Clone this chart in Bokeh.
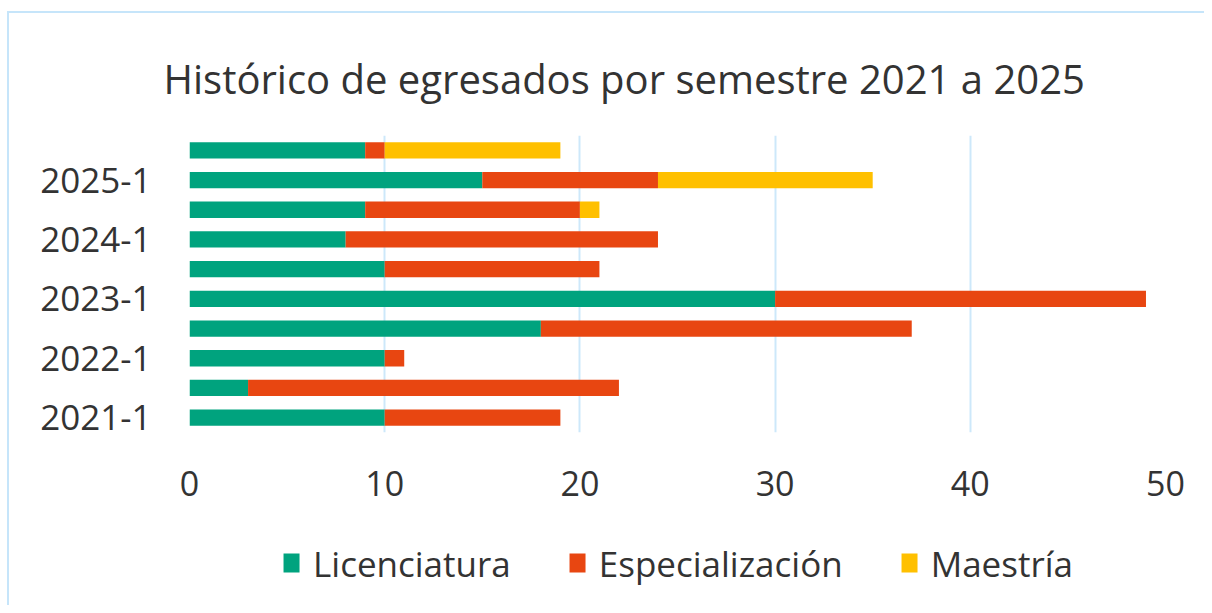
from bokeh.plotting import figure
from bokeh.layouts import column
from bokeh.models import ColumnDataSource, FixedTicker, Legend, LegendItem, Range1d
from bokeh.embed import file_html
from bokeh.resources import INLINE

semestres = ["2021-1", "2021-2", "2022-1", "2022-2", "2023-1",
             "2023-2", "2024-1", "2024-2", "2025-1", "2025-2"]
licenciatura = [10, 3, 10, 18, 30, 10, 8, 9, 15, 9]
especializacion = [9, 19, 1, 19, 19, 11, 16, 11, 9, 1]
maestria = [0, 0, 0, 0, 0, 0, 0, 1, 11, 9]
series_names = ["Licenciatura", "Especialización", "Maestría"]
colors = ["#00A37E", "#E84611", "#FFC000"]
x_ticks = [0, 10, 20, 30, 40, 50]

source = ColumnDataSource(dict(
    y=list(range(len(semestres))),
    lic=licenciatura, esp=especializacion, mae=maestria,
))

FONT = "Open Sans"
TXT = "#333333"
BORDER = "2px solid #C6E5FA"

p = figure(width=1195, height=507, output_backend="svg", toolbar_location=None,
           x_range=Range1d(0, 50), y_range=Range1d(-0.5, len(semestres) - 0.5),
           min_border_left=180, min_border_right=39, min_border_top=122,
           min_border_bottom=88, title="Histórico de egresados por semestre 2021 a 2025")

p.title.text_font = FONT
p.title.text_font_size = "40px"
p.title.text_font_style = "normal"
p.title.text_color = TXT
p.title.align = "left"
p.title.offset = -26
p.title.standoff = 60

renderers = p.hbar_stack(["lic", "esp", "mae"], y="y", height=0.55, color=colors,
                         source=source, line_color=None)

p.outline_line_color = None
p.ygrid.grid_line_color = None
p.xgrid.grid_line_color = "#CDE8FA"
p.xgrid.grid_line_width = 2
p.xaxis.ticker = FixedTicker(ticks=x_ticks)
p.yaxis.ticker = FixedTicker(ticks=[i for i in range(0, len(semestres), 2)])
p.yaxis.major_label_overrides = {i: semestres[i] for i in range(0, len(semestres), 2)}

for ax in (p.xaxis, p.yaxis):
    ax.axis_line_color = None
    ax.major_tick_line_color = None
    ax.minor_tick_line_color = None
    ax.major_label_text_font = FONT
    ax.major_label_text_color = TXT
p.xaxis.major_label_text_font_size = "34px"
p.yaxis.major_label_text_font_size = "35px"
p.xaxis.major_label_standoff = 32
p.yaxis.major_label_standoff = 32

# Legend lives in its own strip below the chart; its swatches come from the
# same stacked-bar series (drawn outside that strip's visible range).
leg = figure(width=1195, height=85, output_backend="svg", toolbar_location=None,
             x_axis_location=None, y_axis_location=None, min_border=0,
             min_border_left=42,
             x_range=Range1d(100, 110), y_range=Range1d(100, 110))
leg.outline_line_color = None
leg.grid.visible = False
leg_renderers = leg.hbar_stack(["lic", "esp", "mae"], y="y", height=0.55, color=colors,
                               source=source, line_color=None)

legend = Legend(items=[LegendItem(label=n, renderers=[r]) for n, r in zip(series_names, leg_renderers)],
                orientation="horizontal", location="center",
                label_text_font=FONT, label_text_font_size="35px", label_text_color=TXT,
                glyph_width=20, glyph_height=24, label_standoff=12, spacing=56,
                border_line_color=None, background_fill_alpha=0, margin=0, padding=4)
leg.add_layout(legend, "center")

layout = column(p, leg, spacing=0,
                styles={"margin-left": "7px", "margin-top": "11px",
                        "border-left": BORDER, "border-top": BORDER})

open("out.html", "w").write(file_html(layout, INLINE))
